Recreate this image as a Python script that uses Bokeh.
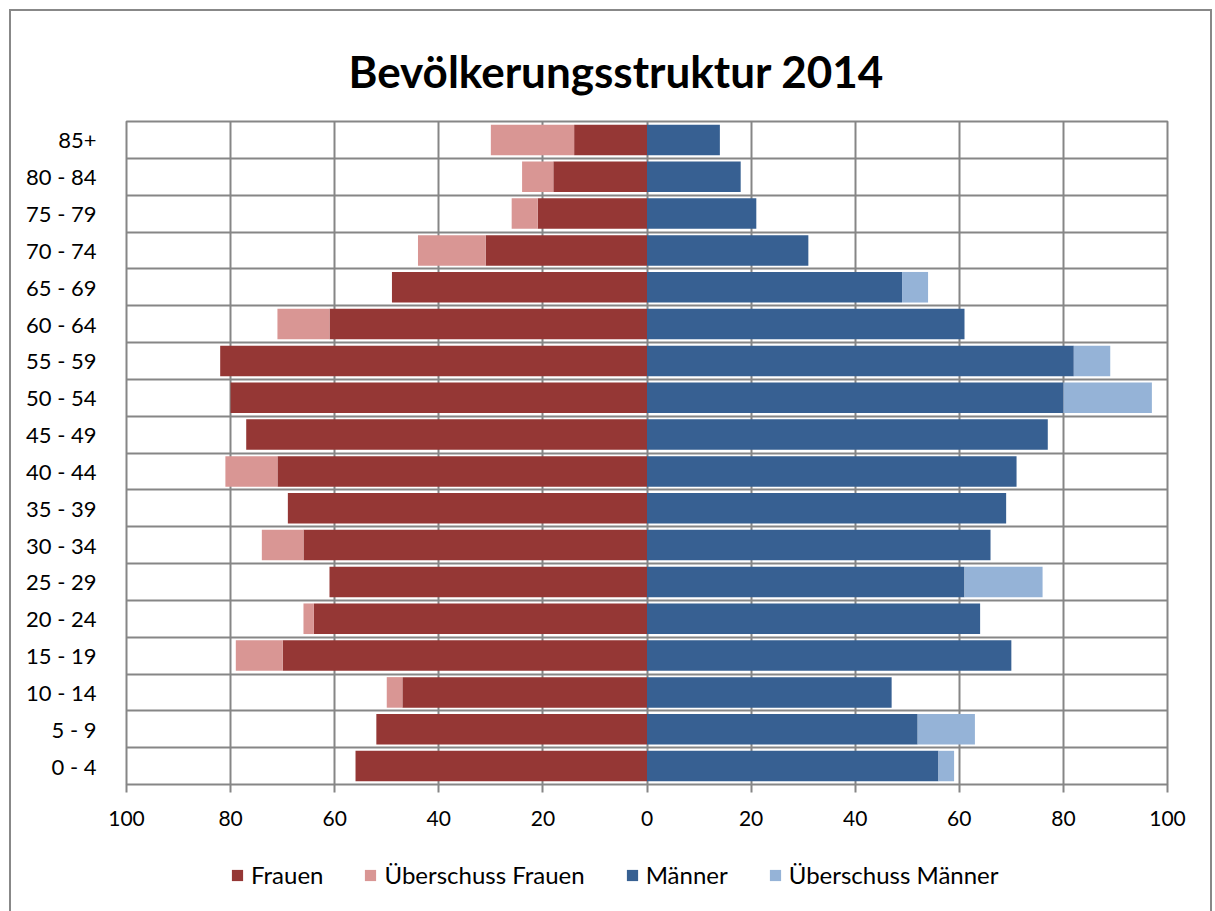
from bokeh.plotting import figure
from bokeh.layouts import column
from bokeh.models import (ColumnDataSource, FixedTicker, Legend, LegendItem, Title)
from bokeh.embed import file_html
from bokeh.resources import INLINE

# ---- data (bottom to top) ----
age_groups = ["0 - 4", "5 - 9", "10 - 14", "15 - 19", "20 - 24", "25 - 29", "30 - 34",
              "35 - 39", "40 - 44", "45 - 49", "50 - 54", "55 - 59", "60 - 64",
              "65 - 69", "70 - 74", "75 - 79", "80 - 84", "85+"]
frauen = [56, 52, 47, 70, 64, 61, 66, 69, 71, 77, 80, 82, 61, 49, 31, 21, 18, 14]
ueberschuss_frauen = [0, 0, 3, 9, 2, 0, 8, 0, 10, 0, 0, 0, 10, 0, 13, 5, 6, 16]
maenner = [56, 52, 47, 70, 64, 61, 66, 69, 71, 77, 80, 82, 61, 49, 31, 21, 18, 14]
ueberschuss_maenner = [3, 11, 0, 0, 0, 15, 0, 0, 0, 0, 17, 7, 0, 5, 0, 0, 0, 0]
x_ticks = [-100, -80, -60, -40, -20, 0, 20, 40, 60, 80, 100]
series_names = ["Frauen", "Überschuss Frauen", "Männer", "Überschuss Männer"]

C_F = "#953735"
C_FU = "#D99694"
C_M = "#376092"
C_MU = "#95B3D7"
colors = [C_F, C_FU, C_M, C_MU]
GRID = "#868686"
FONT = "Lato"

ypos = list(range(len(age_groups)))
src = ColumnDataSource(dict(
    y=ypos,
    f_left=[-v for v in frauen],
    fu_left=[-(a + b) for a, b in zip(frauen, ueberschuss_frauen)],
    fu_right=[-v for v in frauen],
    m_right=maenner,
    mu_left=maenner,
    mu_right=[a + b for a, b in zip(maenner, ueberschuss_maenner)],
))

p = figure(frame_width=1041, frame_height=663, x_range=(-100, 100),
           y_range=(-0.5, len(age_groups) - 0.5),
           output_backend="svg", toolbar_location=None,
           min_border_left=115, min_border_right=43, min_border_top=110,
           min_border_bottom=75)

title = Title(text="Bevölkerungsstruktur 2014", align="left",
              text_font=FONT, text_font_size="44px", text_font_style="bold",
              text_color="black", offset=222, standoff=50)
p.add_layout(title, "above")

h = 0.83
p.hbar(y="y", left="f_left", right=0, height=h, source=src,
       fill_color=C_F, line_color=None)
p.hbar(y="y", left="fu_left", right="fu_right", height=h, source=src,
       fill_color=C_FU, line_color=None)
p.hbar(y="y", left=0, right="m_right", height=h, source=src,
       fill_color=C_M, line_color=None)
p.hbar(y="y", left="mu_left", right="mu_right", height=h, source=src,
       fill_color=C_MU, line_color=None)

# frame / grids
p.outline_line_color = GRID
p.outline_line_width = 2
p.background_fill_color = "white"
p.xgrid.ticker = FixedTicker(ticks=x_ticks)
p.xgrid.grid_line_color = GRID
p.xgrid.grid_line_width = 2
p.ygrid.ticker = FixedTicker(ticks=[i + 0.5 for i in ypos[:-1]])
p.ygrid.grid_line_color = GRID
p.ygrid.grid_line_width = 2

# x axis
p.xaxis.ticker = FixedTicker(ticks=x_ticks)
p.xaxis.major_label_overrides = {t: str(abs(t)) for t in x_ticks}
p.xaxis.axis_line_color = None
p.xaxis.major_tick_line_color = GRID
p.xaxis.major_tick_line_width = 2
p.xaxis.major_tick_in = 0
p.xaxis.major_tick_out = 8
p.xaxis.minor_tick_line_color = None
p.xaxis.major_label_text_font = FONT
p.xaxis.major_label_text_font_size = "21px"
p.xaxis.major_label_text_color = "black"
p.xaxis.major_label_standoff = 18

# y axis
p.yaxis.ticker = FixedTicker(ticks=ypos)
p.yaxis.major_label_overrides = {i: g for i, g in zip(ypos, age_groups)}
p.yaxis.axis_line_color = None
p.yaxis.major_tick_line_color = None
p.yaxis.minor_tick_line_color = None
p.yaxis.major_label_text_font = FONT
p.yaxis.major_label_text_font_size = "22px"
p.yaxis.major_label_text_color = "black"
p.yaxis.major_label_standoff = 24

# ---- legend strip below the chart (proxy renderers lie outside its range) ----
lf = figure(width=1199, height=52, x_range=(0, 1), y_range=(0, 1),
            output_backend="svg", toolbar_location=None,
            x_axis_location=None, y_axis_location=None,
            min_border=0)
lf.grid.visible = False
lf.outline_line_color = None
items = []
for name, col in zip(series_names, colors):
    r = lf.hbar(y=[-50], left=[-60], right=[-59], height=0.5,
                fill_color=col, line_color=None)
    items.append(LegendItem(label=name, renderers=[r]))

legend = Legend(items=items, orientation="horizontal", location=(104, 22),
                label_text_font=FONT, label_text_font_size="24px",
                label_text_color="black", glyph_width=14, glyph_height=14,
                spacing=40, label_standoff=7, border_line_color=None,
                background_fill_alpha=0, margin=0, padding=0)
lf.add_layout(legend, "center")

layout = column(p, lf, spacing=0)
layout.styles = {"border-left": "2px solid #888888", "border-top": "2px solid #888888",
                 "border-right": "2px solid #888888",
                 "margin-left": "9px", "margin-top": "9px"}

open("out.html", "w").write(file_html(layout, INLINE))
